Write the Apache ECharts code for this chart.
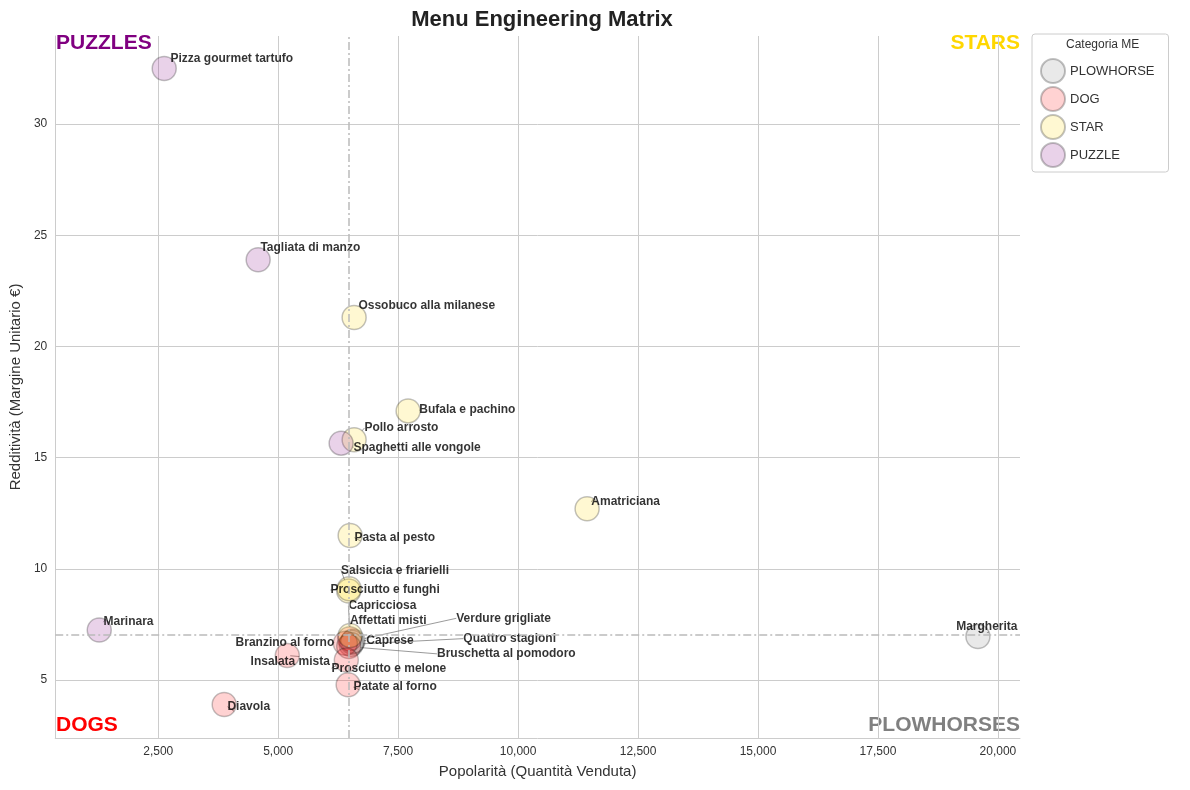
<!DOCTYPE html>
<html><head><meta charset="utf-8">
<script src="https://cdn.jsdelivr.net/npm/echarts@6/dist/echarts.min.js"></script>
<style>html,body{margin:0;background:#fff}#c{width:1190px;height:790px}</style>
</head><body><div id="c"></div>
<script>
var piatti = ['Pizza gourmet tartufo','Tagliata di manzo','Ossobuco alla milanese','Bufala e pachino','Pollo arrosto','Spaghetti alle vongole','Amatriciana','Pasta al pesto','Salsiccia e friarielli','Prosciutto e funghi','Marinara','Margherita','Capricciosa','Affettati misti','Verdure grigliate','Quattro stagioni','Caprese','Branzino al forno','Bruschetta al pomodoro','Insalata mista','Prosciutto e melone','Patate al forno','Diavola'];
var quantita = [2625,4583,6583,7708,6583,6312,11438,6500,6470,6480,1271,19583,6500,6490,6560,6520,6540,6400,6470,5190,6420,6458,3875];
var margine = [32.5,23.9,21.3,17.1,15.8,15.65,12.7,11.5,9.0,9.1,7.25,6.95,7.0,6.85,6.75,6.6,6.7,6.65,6.5,6.1,5.9,4.78,3.9];
var categoria = ['PUZZLE','PUZZLE','STAR','STAR','STAR','PUZZLE','STAR','STAR','STAR','STAR','PUZZLE','PLOWHORSE','STAR','DOG','PLOWHORSE','PLOWHORSE','PLOWHORSE','DOG','DOG','DOG','DOG','DOG','DOG'];
var categorie = ['PLOWHORSE','DOG','STAR','PUZZLE'];
var tickX = [2500,5000,7500,10000,12500,15000,17500,20000];
var tickY = [5,10,15,20,25,30];
var colori = {PLOWHORSE:'#808080',DOG:'#ff0000',STAR:'#ffd700',PUZZLE:'#800080'};
var medianaX = 6480, medianaY = 7.05;

// spostamenti etichette (px)
var offs = {
 'Pizza gourmet tartufo':[7,-9],'Tagliata di manzo':[3,-11],'Ossobuco alla milanese':[5,-11],'Bufala e pachino':[12,0],
 'Pollo arrosto':[11,-11],'Spaghetti alle vongole':[13,5],'Amatriciana':[5,-6],'Pasta al pesto':[5,3],
 'Salsiccia e friarielli':[-7,-20],'Prosciutto e funghi':[-18,2],'Capricciosa':[-1,-29],'Affettati misti':[1,-17],
 'Verdure grigliate':[104,-22],'Quattro stagioni':[113,-5],'Caprese':[15,-1],'Branzino al forno':[-109,0],
 'Bruschetta al pomodoro':[89,8],'Insalata mista':[-36,7],'Prosciutto e melone':[-14,9],'Patate al forno':[6,3],
 'Diavola':[4,3],'Marinara':[5,-7],'Margherita':[-21,-9]
};

var font = 'Liberation Sans, DejaVu Sans, sans-serif';
var series = categorie.map(function (cat) {
  var data = [];
  for (var i = 0; i < piatti.length; i++) {
    if (categoria[i] === cat) data.push({name: piatti[i], value: [quantita[i], margine[i]]});
  }
  return {
    name: cat, type: 'scatter', symbolSize: 24, data: data,
    itemStyle: {color: echarts.color.modifyAlpha(colori[cat], 0.22), borderColor: 'rgba(0,0,0,0.3)', borderWidth: 1.5},
    label: {show: true, formatter: '{b}', position: [12, 12], align: 'left', verticalAlign: 'middle',
      fontSize: 12, fontWeight: 'bold', color: '#000', fontFamily: font},
    labelLine: {show: true, lineStyle: {color: '#555', width: 0.6}},
    labelLayout: function (p) {
      var o = offs[data[p.dataIndex].name] || [0, 0];
      return {dx: o[0], dy: o[1]};
    },
    emphasis: {disabled: true}
  };
});
series[0].markLine = {
  silent: true, symbol: 'none', label: {show: false},
  lineStyle: {color: '#bbb', type: [8, 3, 2, 3], width: 1.5},
  data: [{xAxis: medianaX}, {yAxis: medianaY}]
};

var chart = echarts.init(document.getElementById('c'));
chart.setOption({
  animation: false,
  textStyle: {fontFamily: font},
  title: {text: 'Menu Engineering Matrix', left: 537, top: 4, textAlign: 'center',
    textStyle: {fontSize: 22, fontWeight: 'bold', color: '#222', fontFamily: font}},
  grid: {left: 55, right: 170, top: 36, bottom: 52},
  legend: {orient: 'vertical', left: 1032, top: 34, itemWidth: 24, itemHeight: 24, itemGap: 2,
    data: categorie, icon: 'circle', borderColor: '#ccc', borderWidth: 1, borderRadius: 3, padding: [24, 14, 4, 8],
    textStyle: {fontSize: 13, color: '#333'}},
  graphic: [
    {type: 'text', left: 1066, top: 39, style: {text: 'Categoria ME', fontSize: 12, fill: '#333', fontFamily: font}},
    {type: 'text', left: 56, top: 33, style: {text: 'PUZZLES', fontSize: 21, fontWeight: 'bold', fill: '#800080', fontFamily: font}},
    {type: 'text', right: 170, top: 33, style: {text: 'STARS', fontSize: 21, fontWeight: 'bold', fill: '#ffd700', fontFamily: font}},
    {type: 'text', left: 56, top: 715, style: {text: 'DOGS', fontSize: 21, fontWeight: 'bold', fill: '#ff0000', fontFamily: font}},
    {type: 'text', right: 170, top: 715, style: {text: 'PLOWHORSES', fontSize: 21, fontWeight: 'bold', fill: '#808080', fontFamily: font}}
  ],
  xAxis: {type: 'value', min: 354, max: 20460,
    name: 'Popolarità (Quantità Venduta)', nameLocation: 'middle', nameGap: 26,
    nameTextStyle: {fontSize: 15, color: '#333'},
    axisLine: {show: true, lineStyle: {color: '#ccc'}},
    axisTick: {show: false, customValues: tickX},
    axisLabel: {color: '#333', fontSize: 12, customValues: tickX},
    splitLine: {lineStyle: {color: '#ccc'}}},
  yAxis: {type: 'value', min: 2.39, max: 33.96,
    name: 'Redditività (Margine Unitario €)', nameLocation: 'middle', nameGap: 28,
    nameTextStyle: {fontSize: 15, color: '#333'},
    axisLine: {show: true, lineStyle: {color: '#ccc'}},
    axisTick: {show: false, customValues: tickY},
    axisLabel: {color: '#333', fontSize: 12, customValues: tickY},
    splitLine: {lineStyle: {color: '#ccc'}}},
  series: series
});
</script></body></html>
